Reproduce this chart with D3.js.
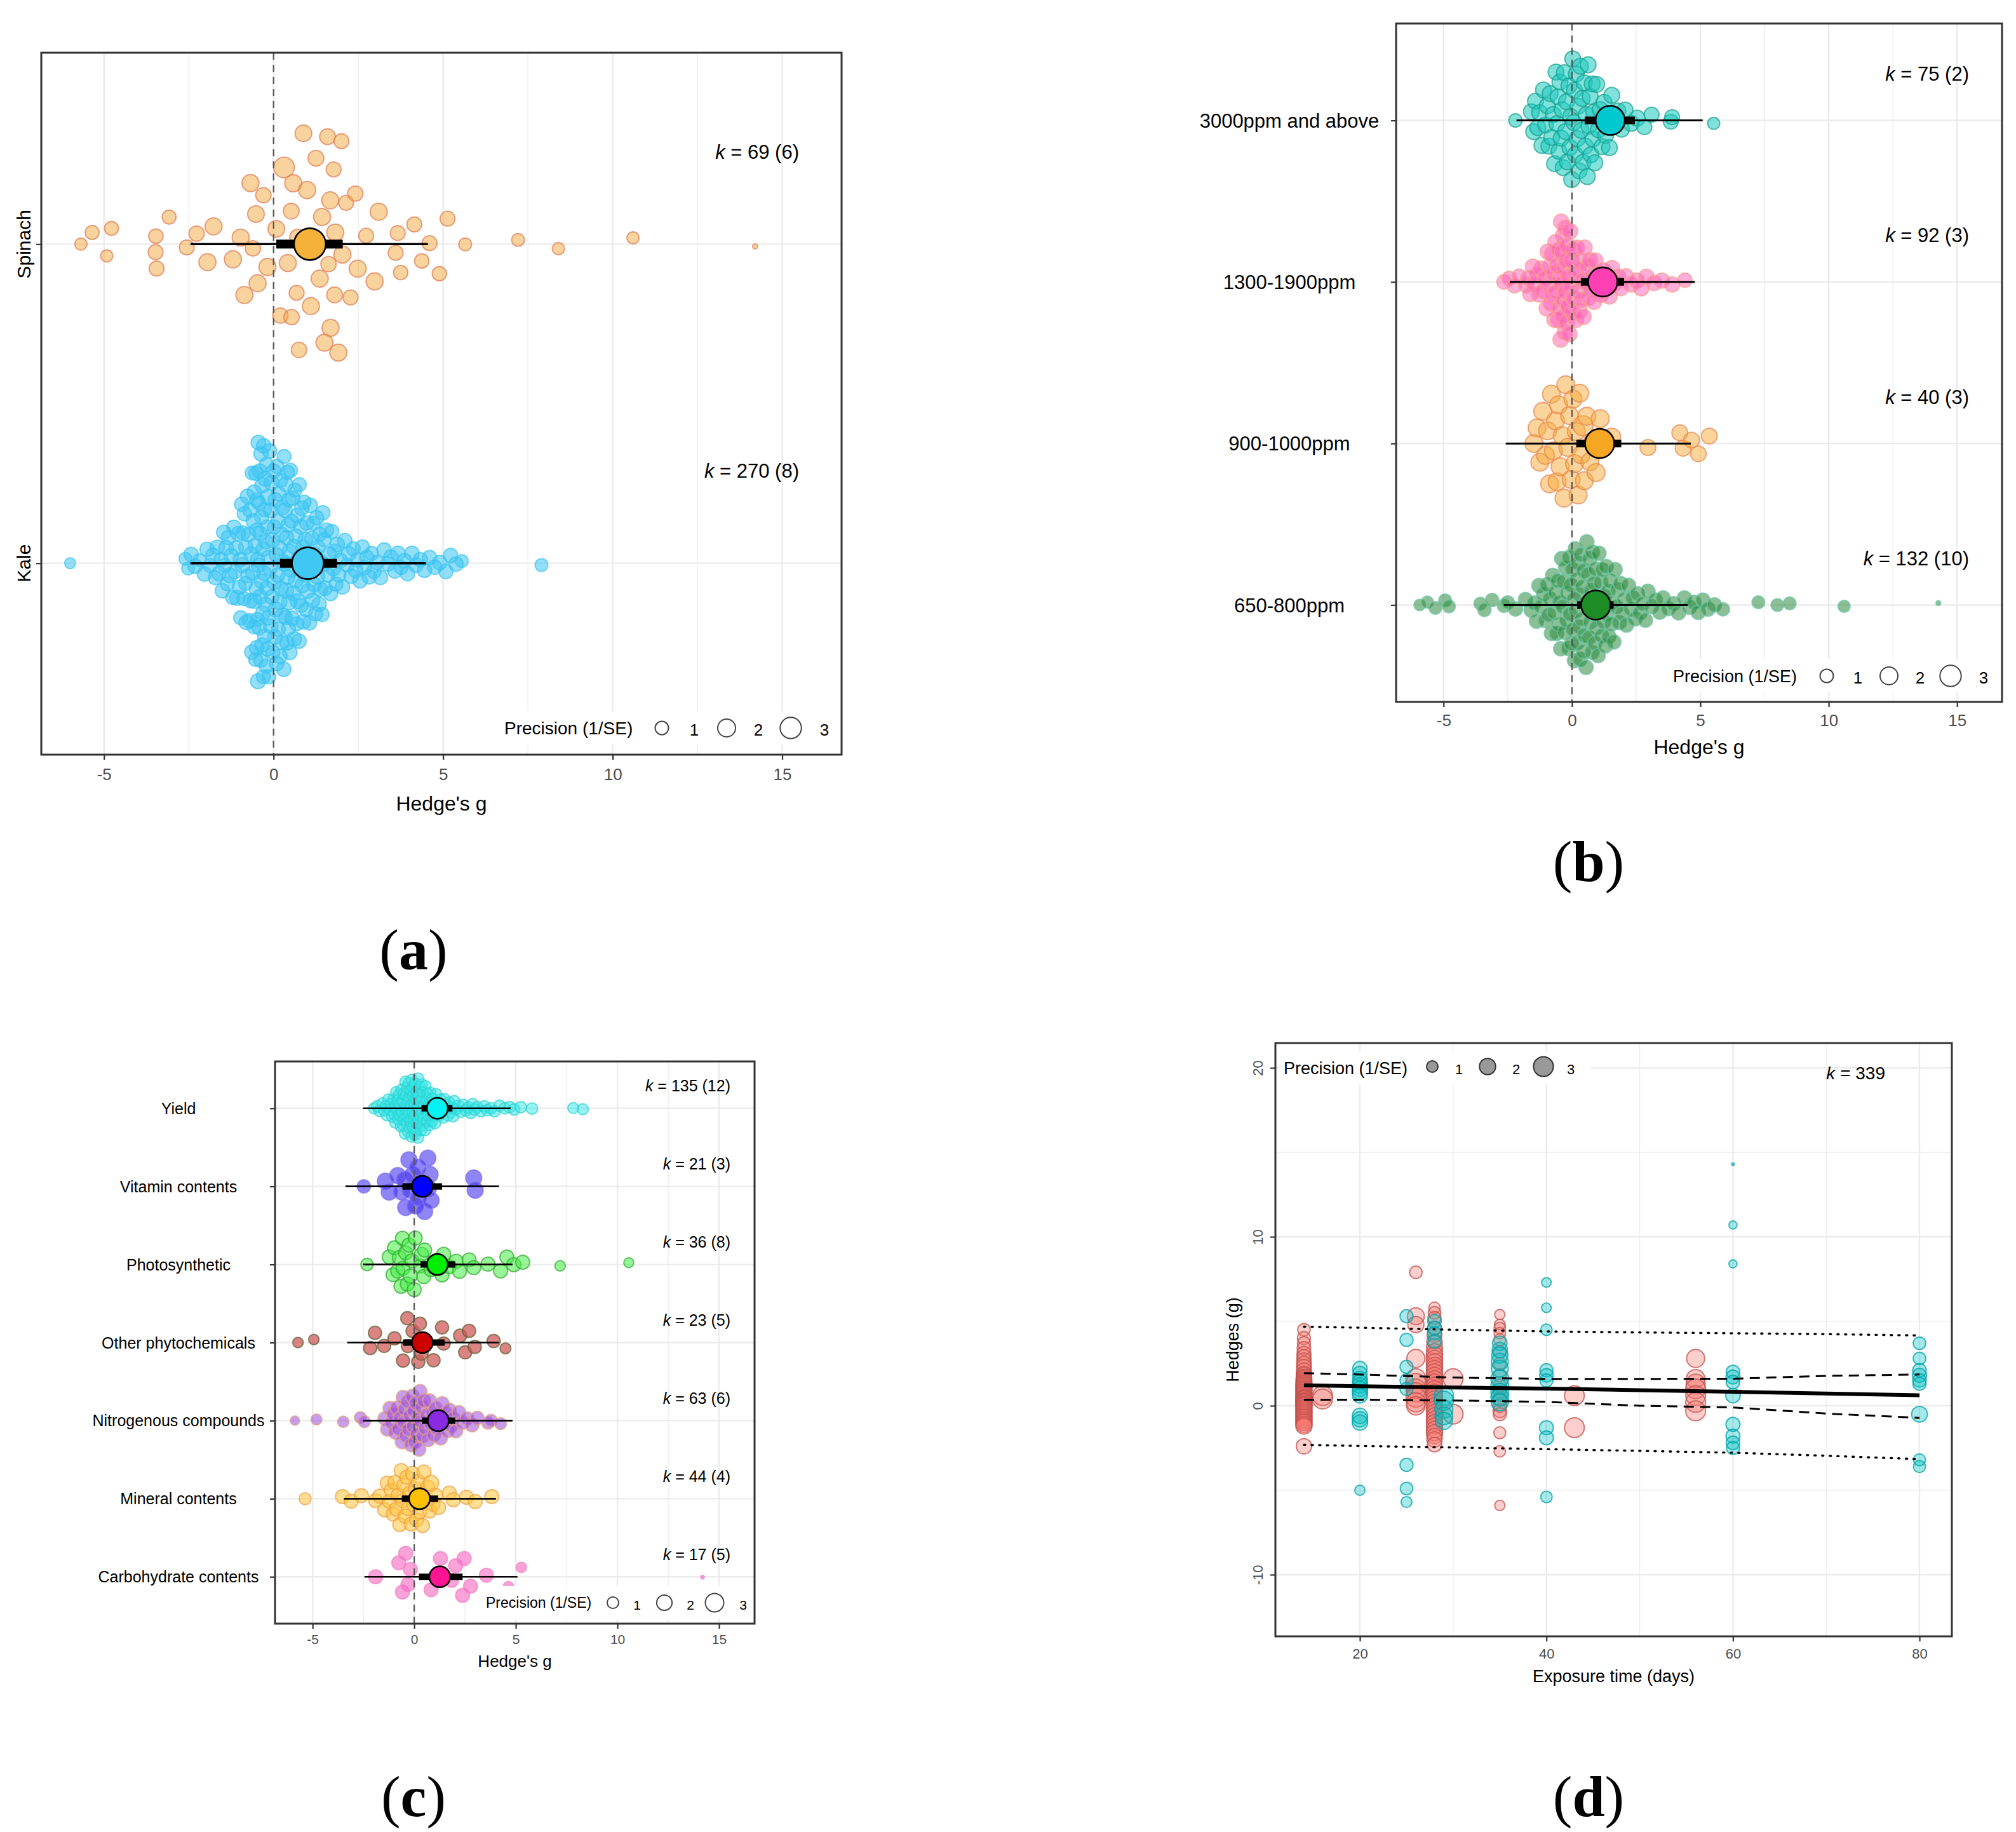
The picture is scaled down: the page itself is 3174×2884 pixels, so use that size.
<!DOCTYPE html>
<html>
<head>
<meta charset="utf-8">
<script src="https://cdn.jsdelivr.net/npm/d3@7"></script>
<style>
body { margin: 0; background: #fff; }
svg text { font-family: "Liberation Sans", Arial, sans-serif; }
</style>
</head>
<body>
<div id="view"></div>
<script>
var width = 3174, height = 2884;

// shared Hedge's g axis
var hedgeDomain = [-6.85, 16.75];
var hedgeTicks = [-5, 0, 5, 10, 15];
var hedgeMinor = [-2.5, 2.5, 7.5, 12.5];
var precBreaks = [1, 2, 3];

// ---- (a) crop ----
var cropNames = ["Spinach", "Kale"];
var cropK = ["69 (6)", "270 (8)"];
var cropEst = [1.07, 1.01];
var cropCiLo = [0.08, 0.19], cropCiHi = [2.04, 1.87];
var cropPiLo = [-2.45, -2.45], cropPiHi = [4.55, 4.49];
var cropPrec = [1.8, 1.2];   // typical precision, used when a point has no own value
var spinachPts = [[-5.68,0.8],[-5.35,1.1],[-4.92,0.8],[-4.78,1.1],[-3.48,1.3],[-3.47,1.2],[-3.45,1.3],[-3.08,1.1],
  [-2.56,1.3],[-2.27,1.4],-1.95,-1.77,-1.2,-0.97,-0.86,-0.68,[-0.61,1.4],[-0.52,1.7],[-0.47,1.8],[-0.3,1.4],
  -0.18,[0.08,1.7],[0.2,1.4],[0.31,2.8],0.42,[0.52,1.5],[0.53,1.4],0.58,[0.68,1.3],[0.71,1.5],[0.75,1.4],
  [0.88,1.7],0.9,0.99,1.1,[1.25,1.5],1.36,1.43,1.5,[1.59,1.5],[1.62,1.4],1.67,1.68,[1.77,1.3],[1.8,1.5],
  1.82,1.91,[2.0,1.3],2.03,[2.14,1.3],[2.27,1.3],[2.41,1.4],2.48,[2.73,1.3],2.98,3.1,[3.6,1.3],[3.66,1.3],
  [3.75,1.2],[4.15,1.3],[4.37,1.2],[4.6,1.3],[4.89,1.2],[5.13,1.3],[5.65,0.9],[7.21,0.9],[8.4,0.8],
  [10.6,0.8],[14.2,0.05]];
var kalePts = [[-6.0,0.6],[-2.6,0.9],[-2.52,0.9],-2.43,-2.31,[-2.18,0.9],-2.04,-1.96,[-1.87,1.1],-1.79,
  [-1.72,1.1],-1.66,-1.61,[-1.55,1.1],-1.51,-1.47,[-1.44,1.1],-1.4,[-1.36,1.1],-1.33,[-1.29,1.3],-1.25,
  [-1.21,1.1],-1.17,[-1.14,1.1],-1.1,[-1.07,1.3],-1.04,[-1.01,1.1],-0.98,[-0.97,1.1],-0.94,[-0.92,1.3],
  -0.9,[-0.88,1.1],-0.86,[-0.83,1.1],-0.82,[-0.8,1.3],-0.77,[-0.76,1.1],-0.74,-0.71,[-0.7,1.1],-0.68,
  [-0.66,1.3],-0.64,[-0.63,1.1],-0.61,-0.6,[-0.58,1.1],-0.57,[-0.56,1.3],-0.54,[-0.53,1.1],-0.52,-0.51,
  [-0.5,1.1],-0.5,-0.49,[-0.48,1.1],-0.47,[-0.46,1.3],-0.45,-0.44,[-0.43,1.1],-0.42,-0.41,[-0.4,1.3],
  -0.39,[-0.38,1.1],-0.37,-0.36,[-0.35,1.1],-0.34,[-0.33,1.3],-0.32,-0.31,[-0.3,1.1],-0.29,-0.28,
  [-0.27,1.1],-0.26,[-0.25,1.3],-0.24,-0.23,[-0.22,1.1],-0.21,-0.2,[-0.19,1.1],-0.18,[-0.17,1.3],-0.16,
  -0.15,[-0.14,1.1],-0.12,-0.11,[-0.09,1.1],-0.08,[-0.06,1.3],-0.05,-0.03,[-0.02,1.1],0,0.01,[0.02,1.1],
  0.04,0.05,[0.06,1.3],0.08,0.09,[0.1,1.1],0.12,0.13,[0.14,1.1],0.15,[0.17,1.3],0.18,0.19,[0.21,1.1],
  0.22,0.23,[0.25,1.1],0.26,[0.27,1.3],0.29,0.3,[0.31,1.1],0.32,0.34,[0.35,1.1],0.36,[0.37,1.3],0.38,
  0.4,[0.41,1.1],0.42,0.43,[0.44,1.1],0.45,[0.46,1.3],0.47,0.48,[0.5,1.1],0.52,[0.53,1.1],0.55,0.56,
  [0.58,1.3],0.6,0.61,[0.63,1.1],0.65,0.66,[0.68,1.1],0.7,[0.71,1.3],0.73,0.75,[0.76,1.1],0.78,0.8,
  [0.81,1.1],0.83,[0.85,1.3],0.87,0.88,[0.9,1.1],0.92,0.94,[0.96,1.1],0.98,1.01,[1.03,1.1],1.06,1.08,
  [1.1,1.3],1.13,1.15,[1.17,1.1],1.2,1.22,[1.24,1.1],1.27,[1.29,1.3],1.31,1.34,[1.36,1.1],1.38,1.41,
  [1.43,1.1],1.45,1.47,[1.49,1.1],1.52,1.56,[1.6,1.1],1.64,1.68,[1.72,1.1],1.76,1.8,[1.84,1.1],1.88,
  1.92,1.97,2.03,2.1,[2.16,1.1],2.22,2.29,[2.35,1.1],2.42,2.48,2.55,[2.62,1.1],2.68,2.75,2.82,[2.89,1.1],
  2.96,3.05,3.15,3.26,3.37,3.46,3.58,3.67,[3.76,1.1],3.86,3.95,4.08,4.2,4.33,4.45,4.6,4.75,4.9,5.08,
  5.22,5.38,[5.55,0.9],[7.9,0.9]];

// ---- (b) CO2 level ----
var co2Names = ["3000ppm and above", "1300-1900ppm", "900-1000ppm", "650-800ppm"];
var co2K = ["75 (2)", "92 (3)", "40 (3)", "132 (10)"];
var co2Est = [1.49, 1.2, 1.08, 0.93];
var co2CiLo = [0.5, 0.35, 0.17, 0.2], co2CiHi = [2.45, 2.03, 1.92, 1.62];
var co2PiLo = [-2.16, -2.42, -2.58, -2.65], co2PiHi = [5.09, 4.79, 4.63, 4.51];
var co2Prec = [1.5, 1.4, 2.0, 1.2];
var ppm3000Pts = [[-2.2,1.0],-1.58,-1.49,-1.42,-1.33,-1.26,-1.17,-1.11,-1.03,-0.96,-0.9,-0.85,-0.79,-0.73,
  -0.68,-0.62,-0.59,-0.54,-0.51,-0.47,-0.42,-0.38,-0.34,-0.3,-0.25,-0.21,-0.18,-0.12,-0.08,-0.05,-0.01,
  0.03,0.07,0.1,0.13,0.17,0.21,0.24,0.28,0.33,0.36,0.4,0.43,0.48,0.52,0.56,0.6,0.63,0.66,0.71,0.74,
  0.79,0.82,0.85,0.89,0.96,1.03,1.1,1.17,1.25,1.31,1.39,1.46,1.55,1.68,1.79,1.93,2.07,2.31,2.54,
  [2.82,1.3],[3.1,1.3],[3.85,1.3],[3.9,1.3],[5.52,0.8]];
var ppm1300Pts = [[-2.65,1.2],[-2.45,1.2],[-2.24,1.2],[-2.06,1.2],-1.78,-1.7,-1.62,-1.52,-1.46,-1.37,-1.28,
  -1.21,-1.12,-1.04,-0.98,-0.94,-0.9,-0.87,-0.82,-0.78,-0.75,-0.71,-0.68,-0.64,-0.6,-0.57,-0.54,-0.51,
  -0.48,-0.46,-0.44,-0.42,-0.4,-0.38,-0.36,-0.35,-0.32,-0.3,-0.28,-0.26,-0.24,-0.22,-0.2,-0.18,-0.15,
  -0.13,-0.1,-0.07,-0.04,-0.02,0.02,0.05,0.09,0.12,0.16,0.19,0.23,0.27,0.3,0.34,0.38,0.41,0.45,0.49,
  0.54,0.6,0.65,0.7,0.75,0.81,0.86,0.91,0.97,1.05,1.13,1.22,1.3,1.38,1.46,1.56,1.68,1.79,1.9,2.1,2.3,
  2.52,2.7,2.9,3.2,3.5,3.9,[4.4,1.2]];
var ppm900Pts = [-1.48,-1.36,-1.25,-1.14,-1.03,-0.95,-0.87,-0.8,-0.72,-0.64,-0.58,-0.52,-0.46,-0.38,-0.31,
  -0.24,-0.16,-0.09,-0.03,0.04,0.1,0.17,0.24,0.3,0.36,[0.43,2.6],0.48,0.58,0.7,0.82,0.94,1.1,1.32,1.55,
  [2.96,1.5],[4.2,1.5],[4.33,1.5],[4.66,1.5],[4.92,1.5],[5.35,1.5]];
var ppm650Pts = [[-5.93,0.7],[-5.63,0.8],[-5.32,0.9],[-4.94,0.9],[-4.79,0.9],[-3.57,0.9],[-3.41,1.0],
  [-3.11,1.0],[-2.65,1.0],[-2.5,1.0],-2.2,-1.81,-1.59,-1.47,-1.38,-1.29,-1.2,-1.11,-1.03,-0.97,-0.91,
  -0.86,-0.8,-0.75,-0.69,-0.64,-0.6,-0.55,-0.51,-0.48,-0.44,-0.4,-0.36,-0.33,-0.29,-0.25,-0.22,-0.18,
  -0.14,-0.11,-0.08,-0.05,-0.02,0.02,0.04,0.07,0.1,0.13,0.15,0.18,0.21,0.24,0.27,0.3,0.32,0.35,0.38,
  0.41,0.44,0.46,0.49,0.52,0.55,0.58,0.61,0.63,0.66,0.69,0.72,0.75,0.78,0.8,0.83,0.86,0.89,0.92,0.95,
  0.98,1.02,1.05,1.09,1.12,1.16,1.19,1.23,1.26,1.3,1.33,1.37,1.4,1.44,1.48,1.53,1.58,1.63,1.68,1.73,
  1.78,1.84,1.89,1.95,2.04,2.12,2.2,2.29,2.37,2.46,2.55,2.65,2.75,2.86,2.96,3.1,3.25,3.42,3.55,3.75,
  3.95,4.15,4.38,4.58,4.75,4.92,5.1,5.3,5.55,[5.88,1.0],[7.26,0.9],[8.0,0.9],[8.48,0.9],[10.6,0.8],
  [14.27,0.05]];

// ---- (c) outcome category ----
var catNames = ["Yield", "Vitamin contents", "Photosynthetic", "Other phytochemicals",
  "Nitrogenous compounds", "Mineral contents", "Carbohydrate contents"];
var catK = ["135 (12)", "21 (3)", "36 (8)", "23 (5)", "63 (6)", "44 (4)", "17 (5)"];
var catEst = [1.14, 0.4, 1.14, 0.4, 1.18, 0.26, 1.26];
var catCiLo = [0.36, -0.58, 0.31, -0.55, 0.39, -0.61, 0.23];
var catCiHi = [1.88, 1.37, 2.02, 1.5, 2.02, 1.18, 2.38];
var catPiLo = [-2.52, -3.38, -2.52, -3.3, -2.52, -3.46, -2.45];
var catPiHi = [4.75, 4.17, 4.84, 4.17, 4.84, 4.02, 5.08];
var catPrec = [1.0, 2.2, 1.6, 1.4, 1.5, 1.6, 1.6];
var yieldPts = [[-1.98,0.9],-1.82,-1.7,-1.56,-1.47,-1.4,-1.33,-1.27,-1.2,-1.14,-1.08,-1.02,-0.98,-0.95,
  -0.92,-0.88,-0.85,-0.82,-0.78,-0.75,-0.72,-0.69,-0.65,-0.62,-0.59,-0.56,-0.53,-0.51,-0.49,-0.47,-0.45,
  -0.43,-0.41,-0.39,-0.37,-0.35,-0.33,-0.31,-0.29,-0.27,-0.25,-0.23,-0.21,-0.19,-0.17,-0.15,-0.13,-0.11,
  -0.09,-0.07,-0.05,-0.04,-0.02,0,0.02,0.04,0.06,0.08,0.1,0.12,0.14,0.16,0.18,0.2,0.22,0.24,0.26,0.28,
  0.3,0.32,0.34,0.36,0.38,0.4,0.42,0.44,0.46,0.48,0.52,0.55,0.58,0.61,0.64,0.67,0.7,0.73,0.76,0.79,
  0.82,0.85,0.88,0.91,0.94,0.97,1.03,1.08,1.13,1.18,1.23,1.28,1.33,1.38,1.43,1.48,1.55,1.61,1.67,1.73,
  1.79,1.85,1.91,1.97,2.07,2.18,2.3,2.42,2.55,2.66,2.78,2.88,2.97,3.1,3.28,3.45,3.6,3.78,3.95,4.2,
  4.45,4.7,4.92,5.25,5.8,[7.83,0.9],[8.3,0.9]];
var vitaminPts = [[-2.48,1.4],-1.42,-1.23,-0.81,-0.62,-0.47,-0.42,-0.26,-0.19,-0.08,0.05,0.17,0.2,0.33,0.51,
  0.67,0.7,0.78,0.83,2.93,3.0];
var photoPts = [[-2.32,1.2],-1.23,-1.04,-0.97,-0.81,-0.73,-0.65,-0.58,-0.55,-0.42,-0.34,-0.26,-0.19,-0.11,
  0.0,0.05,0.31,0.36,0.47,0.51,0.83,1.0,1.37,1.45,1.73,2.07,2.23,2.7,2.93,3.63,4.25,4.56,4.9,5.34,
  [7.18,0.8],[10.56,0.7]];
var otherPts = [[-5.72,0.8],[-4.94,0.8],-2.17,-1.93,-1.48,-0.97,-0.55,-0.34,-0.31,-0.08,0.2,0.28,0.36,0.51,
  0.95,1.37,1.45,2.26,2.51,2.7,2.98,3.91,[4.49,0.9]];
var nitroPts = [[-5.87,0.6],[-4.81,0.9],[-3.49,1.0],[-2.65,1.1],[-2.45,1.1],-1.45,-1.32,-1.2,-1.1,-1.02,
  -0.93,-0.84,-0.76,-0.68,-0.6,-0.55,-0.51,-0.46,-0.4,-0.33,-0.27,-0.2,-0.14,-0.09,-0.05,-0.01,0.04,
  0.09,0.14,0.19,0.24,0.29,0.33,0.38,0.43,0.48,0.55,0.62,0.69,0.76,0.83,0.9,0.97,1.05,1.13,1.22,1.3,
  1.38,1.46,1.55,1.64,1.73,1.82,1.92,2.05,2.2,2.38,2.6,2.85,3.1,[3.63,1.2],[3.78,1.2],[4.25,1.1]];
var mineralPts = [[-5.37,1.1],-3.53,-3.1,-2.6,-1.9,-1.7,-1.45,-1.33,-1.22,-1.12,-1.03,-0.95,-0.87,-0.79,
  -0.71,-0.64,-0.57,-0.51,-0.45,-0.37,-0.3,-0.22,-0.15,-0.08,-0.02,0.05,0.12,0.2,0.27,0.34,0.41,0.48,
  0.56,0.66,0.76,[0.83,2.0],0.92,1.05,1.2,1.73,1.92,2.57,3.0,3.82];
var carbPts = [-1.9,-0.76,-0.58,-0.42,-0.31,-0.19,0.83,1.29,1.84,2.04,2.38,2.46,2.77,3.55,[4.64,0.8],
  [5.27,0.8],[14.19,0.03]];

// ---- (d) exposure time: [days, g, precision] ----
var timeRedPts = [[14,4.5,1.2],[14,4.0,1.3],[14,3.7,1.3],[14,3.4,1.4],[14,3.1,1.5],[14,2.9,1.5],[14,2.7,1.6],
  [14,2.5,1.6],[14,2.3,1.7],[14,2.1,1.7],[14,1.9,1.8],[14,1.8,1.8],[14,1.7,1.8],[14,1.6,1.9],[14,1.5,1.9],
  [14,1.4,1.9],[14,1.3,2],[14,1.2,2],[14,1.1,2],[14,1.0,2],[14,0.9,2],[14,0.8,2],[14,0.7,2],[14,0.6,2],
  [14,0.5,2],[14,0.45,2],[14,0.4,2],[14,0.3,2],[14,0.25,2],[14,0.2,2],[14,0.1,2],[14,0.05,2],[14,0,2],
  [14,-0.1,2],[14,-0.2,2],[14,-0.3,2],[14,-0.4,2],[14,-0.5,2],[14,-0.6,2],[14,-0.7,2],[14,-0.8,2],
  [14,-0.9,2],[14,-1.0,2],[14,-1.1,2],[14,-1.2,2],[14,-2.4,1.8],[16,0.6,3],[16,0.4,3],
  [26,7.9,1.2],[26,5.3,2.2],[26,4.8,2],[26,2.8,2.5],[26,1.6,3],[26,1.3,3.2],[26,1.0,3],[26,0.8,2.8],
  [26,0.5,3],[26,0.2,2.8],[26,0,2.6],[28,5.8,1],[28,5.5,1.2],[28,5.2,1.3],[28,4.6,1.5],[28,4.2,1.7],
  [28,3.8,1.8],[28,3.5,1.9],[28,3.2,2],[28,3.0,2],[28,2.8,2],[28,2.6,2],[28,2.4,2],[28,2.2,2],[28,2.0,2],
  [28,1.8,2],[28,1.6,2],[28,1.4,2],[28,1.2,2],[28,1.0,2],[28,0.8,2],[28,0.6,2],[28,0.4,2],[28,0.2,2],
  [28,0,2],[28,-0.2,2],[28,-0.4,2],[28,-0.6,2],[28,-0.8,2],[28,-1.0,2],[28,-1.2,2],[28,-1.4,2],
  [28,-1.6,2],[28,-1.8,1.8],[28,-2.0,1.8],[28,-2.3,1.6],[30,1.6,3],[30,-0.5,3],
  [35,5.4,0.8],[35,4.8,0.9],[35,4.6,1],[35,4.3,1],[35,3.9,1.1],[35,3.2,1.2],[35,2.5,1.2],[35,1.8,1.3],
  [35,1.2,1.3],[35,0.8,1.3],[35,0.4,1.4],[35,0,1.4],[35,-0.3,1.4],[35,-0.5,1.3],[35,-1.6,1.1],
  [35,-2.7,1],[35,-5.9,0.8],[43,0.6,3],[43,-1.3,3],
  [56,2.8,2.5],[56,1.6,2.6],[56,1.3,2.8],[56,1.0,3],[56,0.6,3],[56,0.2,3],[56,-0.3,3]];
var timeTealPts = [[20,2.2,1.6],[20,1.9,1.6],[20,1.6,1.7],[20,1.4,1.7],[20,1.2,1.8],[20,1.0,1.8],[20,0.8,1.8],
  [20,0.6,1.7],[20,-0.6,1.8],[20,-0.8,1.8],[20,-1.0,1.8],[20,-5.0,0.8],
  [25,5.3,1.3],[25,3.9,1.3],[25,2.3,1.3],[25,1.5,1.3],[25,1.0,1.3],[25,-3.5,1.3],[25,-4.9,1.2],[25,-5.7,0.9],
  [28,5.0,1.4],[28,4.6,1.4],[28,4.3,1.4],[28,3.8,1.3],
  [29,0.6,2.8],[29,0.3,2.8],[29,-0.2,2.5],[29,-0.6,2.4],[29,-0.9,2.2],
  [35,3.7,1.6],[35,3.3,1.8],[35,3.0,2],[35,2.6,2.2],[35,2.2,2.2],[35,1.6,2.4],[35,1.2,2.4],[35,0.8,2.4],
  [35,0.5,2.4],[35,0.2,2.2],
  [40,7.3,0.7],[40,5.8,0.7],[40,4.5,1],[40,2.1,1.3],[40,1.8,1.4],[40,1.5,1.3],[40,-1.3,1.5],[40,-1.9,1.5],
  [40,-5.4,1],
  [60,14.3,0.05],[60,10.7,0.5],[60,8.4,0.5],[60,2.0,1.4],[60,1.7,1.5],[60,1.4,1.4],[60,0.6,1.6],
  [60,-1.1,1.5],[60,-1.8,1.5],[60,-2.2,1.4],[60,-2.5,1.3],
  [80,3.7,1.2],[80,2.8,1.2],[80,2.1,1.4],[80,1.8,1.5],[80,1.5,1.4],[80,1.3,1.3],[80,-0.5,1.9],
  [80,-3.2,1.1],[80,-3.6,1.1]];
var timeKnots = [14, 20, 30, 40, 50, 60, 70, 80];
var timeFit = [1.21, 1.16, 1.08, 1.01, 0.92, 0.83, 0.72, 0.62];
var timeCiHi = [1.93, 1.85, 1.67, 1.59, 1.59, 1.6, 1.77, 1.85];
var timeCiLo = [0.36, 0.36, 0.31, 0.23, 0.0, -0.1, -0.46, -0.72];
var timePiHi = [4.68, 4.62, 4.5, 4.4, 4.34, 4.29, 4.24, 4.16];
var timePiLo = [-2.31, -2.38, -2.47, -2.57, -2.67, -2.78, -2.96, -3.16];
var timeK = "339";

var svg = d3.select("#view").append("svg")
	.attr("width", width)
	.attr("height", height);
svg.append("rect").attr("width", width).attr("height", height).style("fill", "#ffffff");

// van der Corput sequence, base 2
function vdc(n) {
	var v = 0, denom = 1;
	while (n > 0) { denom *= 2; v += (n % 2) / denom; n = Math.floor(n / 2); }
	return v;
}

// quasirandom offsets like ggbeeswarm (density scaled, vdc by rank)
function quasiOffsets(vals, w) {
	var n = vals.length;
	var sorted = vals.slice().sort(d3.ascending);
	var sd = d3.deviation(vals) || 1;
	var iqr = d3.quantileSorted(sorted, 0.75) - d3.quantileSorted(sorted, 0.25);
	var lo = Math.min(sd, iqr / 1.34);
	if (!(lo > 0)) lo = sd;
	var bw = 0.5 * 0.9 * lo * Math.pow(n, -0.2);
	function dens(v) {
		var s = 0;
		for (var j = 0; j < n; j++) { var u = (v - vals[j]) / bw; s += Math.exp(-0.5 * u * u); }
		return s;
	}
	var a = sorted[0] - 3 * bw, b = sorted[n - 1] + 3 * bw;
	var maxD = d3.max(d3.range(301), function(i) { return dens(a + i * (b - a) / 300); });
	var order = d3.range(n).sort(function(p, q) { return vals[p] - vals[q] || p - q; });
	var rank = [];
	order.forEach(function(idx, r) { rank[idx] = r + 1; });
	return vals.map(function(v, i) { return (vdc(rank[i]) - 0.5) * 2 * dens(v) / maxD * w; });
}

function kLabel(sel, txt) {
	sel.append("tspan").style("font-style", "italic").text("k");
	sel.append("tspan").text(" = " + txt);
}

function orchard(o) {
	var g = svg.append("g");
	var b = o.box;
	var x = d3.scaleLinear().domain(hedgeDomain).range([b[0], b[2]]);
	var y = d3.scalePoint().domain(o.names).range([b[1], b[3]]).padding(0.6);
	var step = y.step();
	var rad = function(p) { return o.r0 + o.r1 * Math.sqrt(p); };

	// grid
	g.selectAll(".gmin").data(hedgeMinor).enter().append("line")
		.attr("x1", x).attr("x2", x).attr("y1", b[1]).attr("y2", b[3])
		.style("stroke", "#ebebeb").style("stroke-width", 1.2);
	g.selectAll(".gmaj").data(hedgeTicks).enter().append("line")
		.attr("x1", x).attr("x2", x).attr("y1", b[1]).attr("y2", b[3])
		.style("stroke", "#ebebeb").style("stroke-width", 2.4);
	g.selectAll(".gcat").data(o.names).enter().append("line")
		.attr("x1", b[0]).attr("x2", b[2]).attr("y1", y).attr("y2", y)
		.style("stroke", "#ebebeb").style("stroke-width", 2.4);

	// effect sizes
	o.names.forEach(function(name, i) {
		var pts = o.points[i].map(function(d) { return Array.isArray(d) ? d : [d, o.prec[i]]; });
		var off = quasiOffsets(pts.map(function(d) { return d[0]; }), 0.4);
		g.append("g").selectAll("circle")
			.data(pts).enter()
			.append("circle")
			.attr("cx", function(d) { return x(d[0]); })
			.attr("cy", function(d, j) { return y(name) + off[j] * step; })
			.attr("r", function(d) { return rad(d[1]); })
			.style("fill", o.fill[i]).style("fill-opacity", o.fillOp[i])
			.style("stroke", o.stroke[i]).style("stroke-opacity", 0.7)
			.style("stroke-width", 2);
	});

	// zero line
	g.append("line").attr("x1", x(0)).attr("x2", x(0)).attr("y1", b[1]).attr("y2", b[3])
		.style("stroke", "#555").style("stroke-width", 2.2).style("stroke-dasharray", "11,8");

	// prediction + confidence intervals and estimate
	g.selectAll(".pi").data(o.names).enter().append("line")
		.attr("x1", function(d, i) { return x(o.piLo[i]); })
		.attr("x2", function(d, i) { return x(o.piHi[i]); })
		.attr("y1", y).attr("y2", y)
		.style("stroke", "#000").style("stroke-width", o.piW);
	g.selectAll(".ci").data(o.names).enter().append("line")
		.attr("x1", function(d, i) { return x(o.ciLo[i]); })
		.attr("x2", function(d, i) { return x(o.ciHi[i]); })
		.attr("y1", y).attr("y2", y)
		.style("stroke", "#000").style("stroke-width", o.ciW);
	g.selectAll(".est").data(o.names).enter().append("circle")
		.attr("cx", function(d, i) { return x(o.est[i]); })
		.attr("cy", y)
		.attr("r", o.estR)
		.style("fill", function(d, i) { return o.estFill[i]; })
		.style("stroke", "#000").style("stroke-width", 2.6);

	// k labels
	g.selectAll(".k").data(o.names).enter().append("text")
		.attr("x", o.kRight)
		.attr("y", function(d) { return y(d) - 0.29 * step; })
		.attr("dy", "0.36em")
		.attr("text-anchor", "end")
		.style("font-size", o.kSize + "px")
		.each(function(d, i) { kLabel(d3.select(this), o.k[i]); });

	// legend
	var L = o.legend;
	g.append("rect").attr("x", L.tx - 12).attr("y", L.y - 26)
		.attr("width", L.nx[2] - L.tx + 28).attr("height", 52).style("fill", "#fff");
	g.append("text").attr("x", L.tx).attr("y", L.y).attr("dy", "0.36em")
		.style("font-size", L.size + "px").text("Precision (1/SE)");
	g.selectAll(".lc").data(precBreaks).enter().append("circle")
		.attr("cx", function(d, i) { return L.cx[i]; }).attr("cy", L.y)
		.attr("r", rad)
		.style("fill", "none").style("stroke", "#444").style("stroke-width", 2);
	g.selectAll(".ln").data(precBreaks).enter().append("text")
		.attr("x", function(d, i) { return L.nx[i]; }).attr("y", L.y + 3).attr("dy", "0.36em")
		.attr("text-anchor", "middle").style("font-size", L.nSize + "px")
		.text(function(d) { return d; });

	// frame and axes
	g.append("rect").attr("x", b[0]).attr("y", b[1]).attr("width", b[2] - b[0]).attr("height", b[3] - b[1])
		.style("fill", "none").style("stroke", "#333").style("stroke-width", 3);
	var xa = g.append("g").attr("transform", "translate(0," + b[3] + ")")
		.call(d3.axisBottom(x).tickValues(hedgeTicks).tickSize(8).tickPadding(o.tickPad)
			.tickFormat(function(d) { return String(d); }));
	var ya = g.append("g").attr("transform", "translate(" + b[0] + ",0)")
		.call(d3.axisLeft(y).tickSize(8).tickFormat(""));
	[xa, ya].forEach(function(a) {
		a.select(".domain").remove();
		a.selectAll("line").style("stroke", "#333").style("stroke-width", 2.2);
		a.selectAll("text").style("fill", "#4d4d4d").style("font-size", o.tickSize + "px")
			.style("font-family", "Liberation Sans, Arial, sans-serif");
	});

	// category labels
	g.selectAll(".cl").data(o.names).enter().append("text")
		.attr("transform", function(d) {
			return "translate(" + o.catX + "," + y(d) + ")" + (o.catRotate ? " rotate(-90)" : "");
		})
		.attr("dy", "0.36em").attr("text-anchor", "middle")
		.style("font-size", o.catSize + "px").style("fill", "#000")
		.text(function(d) { return d; });

	g.append("text").attr("x", (b[0] + b[2]) / 2).attr("y", o.titleY)
		.attr("text-anchor", "middle").style("font-size", o.titleSize + "px")
		.text("Hedge's g");
}

orchard({
	box: [65, 83, 1325, 1188], names: cropNames, points: [spinachPts, kalePts], prec: cropPrec,
	est: cropEst, ciLo: cropCiLo, ciHi: cropCiHi, piLo: cropPiLo, piHi: cropPiHi, k: cropK,
	fill: ["#f3a73b", "#3cc4f2"], fillOp: [0.5, 0.55], stroke: ["#e07b54", "#3cc4f2"],
	estFill: ["#f4b23a", "#40c8f4"], r0: 2, r1: 8.5, estR: 25, ciW: 14, piW: 3.5,
	kRight: 1258, kSize: 31, catX: 37, catRotate: true, catSize: 30,
	tickPad: 14, tickSize: 26, titleY: 1276, titleSize: 32,
	legend: { tx: 794, y: 1146, size: 28, nSize: 26, cx: [1042, 1144, 1245], nx: [1093, 1194, 1298] }
});

orchard({
	box: [2198, 37, 3152, 1105], names: co2Names, points: [ppm3000Pts, ppm1300Pts, ppm900Pts, ppm650Pts],
	prec: co2Prec, est: co2Est, ciLo: co2CiLo, ciHi: co2CiHi, piLo: co2PiLo, piHi: co2PiHi, k: co2K,
	fill: ["#1cc9be", "#ff5bb5", "#f7a93a", "#2e8b3e"], fillOp: [0.55, 0.5, 0.5, 0.55],
	stroke: ["#16a08f", "#f7a08c", "#e8864e", "#6cc4a4"],
	estFill: ["#00c8cf", "#ff40b4", "#f5a623", "#1e8c26"], r0: 2, r1: 8.5, estR: 23, ciW: 12, piW: 3,
	kRight: 3100, kSize: 31, catX: 2030, catRotate: false, catSize: 31,
	tickPad: 12, tickSize: 26, titleY: 1187, titleSize: 32,
	legend: { tx: 2634, y: 1064, size: 27, nSize: 26, cx: [2876, 2974, 3071], nx: [2925, 3023, 3123] }
});

orchard({
	box: [433, 1671, 1188, 2556], names: catNames,
	points: [yieldPts, vitaminPts, photoPts, otherPts, nitroPts, mineralPts, carbPts],
	prec: catPrec, est: catEst, ciLo: catCiLo, ciHi: catCiHi, piLo: catPiLo, piHi: catPiHi, k: catK,
	fill: ["#33e6e6", "#4433ee", "#44ee44", "#d05a5a", "#9a4de0", "#ffc53d", "#f566c0"],
	fillOp: [0.5, 0.6, 0.55, 0.75, 0.55, 0.55, 0.6],
	stroke: ["#2ed3d3", "#7a6cf0", "#2eaa2e", "#5c5c30", "#e0a080", "#f0a040", "#f580c8"],
	estFill: ["#00f2f2", "#0000ff", "#00ee00", "#cc0000", "#8a2be2", "#ffc000", "#ff1493"],
	r0: 1.5, r1: 7.5, estR: 16.5, ciW: 10, piW: 2.6,
	kRight: 1150, kSize: 25, catX: 281, catRotate: false, catSize: 25,
	tickPad: 9, tickSize: 21, titleY: 2624, titleSize: 26,
	legend: { tx: 765, y: 2523, size: 23, nSize: 21, cx: [965, 1046, 1125], nx: [1003, 1087, 1170] }
});

// ---- (d) bubble plot over exposure time ----
(function() {
	var b = [2008, 1642, 3073, 2576];
	var g = svg.append("g");
	var x = d3.scaleLinear().domain([10.94, 83.47]).range([b[0], b[2]]);
	var y = d3.scaleLinear().domain([-13.65, 21.47]).range([b[3], b[1]]);
	var rad = function(p) { return 9 * Math.sqrt(p); };

	g.selectAll(".xm").data([30, 50, 70]).enter().append("line")
		.attr("x1", x).attr("x2", x).attr("y1", b[1]).attr("y2", b[3])
		.style("stroke", "#ebebeb").style("stroke-width", 1.2);
	g.selectAll(".ym").data([-5, 5, 15]).enter().append("line")
		.attr("x1", b[0]).attr("x2", b[2]).attr("y1", y).attr("y2", y)
		.style("stroke", "#ebebeb").style("stroke-width", 1.2);
	g.selectAll(".xM").data([20, 40, 60, 80]).enter().append("line")
		.attr("x1", x).attr("x2", x).attr("y1", b[1]).attr("y2", b[3])
		.style("stroke", "#ebebeb").style("stroke-width", 2.4);
	g.selectAll(".yM").data([-10, 0, 10, 20]).enter().append("line")
		.attr("x1", b[0]).attr("x2", b[2]).attr("y1", y).attr("y2", y)
		.style("stroke", "#ebebeb").style("stroke-width", 2.4);

	[[timeRedPts, "#f8766d", "#c0504d"], [timeTealPts, "#00bfc4", "#00a2a8"]].forEach(function(s) {
		g.append("g").selectAll("circle")
			.data(s[0]).enter()
			.append("circle")
			.attr("cx", function(d) { return x(d[0]); })
			.attr("cy", function(d) { return y(d[1]); })
			.attr("r", function(d) { return rad(d[2]); })
			.style("fill", s[1]).style("fill-opacity", 0.35)
			.style("stroke", s[2]).style("stroke-opacity", 0.75).style("stroke-width", 2);
	});

	function band(vals, w, dash) {
		var line = d3.line()
			.x(function(d, i) { return x(timeKnots[i]); })
			.y(function(d) { return y(d); });
		g.append("path").attr("d", line(vals))
			.style("fill", "none").style("stroke", "#000").style("stroke-width", w)
			.style("stroke-dasharray", dash).style("stroke-linecap", dash === "2,10" ? "round" : "butt");
	}
	band(timePiHi, 3.4, "2,10");
	band(timePiLo, 3.4, "2,10");
	band(timeCiHi, 3, "16,10");
	band(timeCiLo, 3, "16,10");
	band(timeFit, 6, null);

	// legend
	g.append("rect").attr("x", 2014).attr("y", 1656).attr("width", 490).attr("height", 50).style("fill", "#fff");
	g.append("text").attr("x", 2021).attr("y", 1681).attr("dy", "0.36em")
		.style("font-size", "27px").text("Precision (1/SE)");
	var lcx = [2255, 2342, 2430], lnx = [2297, 2387, 2473];
	g.selectAll(".lc").data(precBreaks).enter().append("circle")
		.attr("cx", function(d, i) { return lcx[i]; }).attr("cy", 1679)
		.attr("r", rad)
		.style("fill", "#808080").style("fill-opacity", 0.8)
		.style("stroke", "#333").style("stroke-width", 2);
	g.selectAll(".ln").data(precBreaks).enter().append("text")
		.attr("x", function(d, i) { return lnx[i]; }).attr("y", 1683).attr("dy", "0.36em")
		.attr("text-anchor", "middle").style("font-size", "22px")
		.text(function(d) { return d; });

	g.append("text").attr("x", 2968).attr("y", 1689).attr("dy", "0.36em")
		.attr("text-anchor", "end").style("font-size", "28px")
		.each(function() { kLabel(d3.select(this), timeK); });

	g.append("rect").attr("x", b[0]).attr("y", b[1]).attr("width", b[2] - b[0]).attr("height", b[3] - b[1])
		.style("fill", "none").style("stroke", "#333").style("stroke-width", 3);

	var xa = g.append("g").attr("transform", "translate(0," + b[3] + ")")
		.call(d3.axisBottom(x).tickValues([20, 40, 60, 80]).tickSize(8).tickPadding(11));
	var ya = g.append("g").attr("transform", "translate(" + b[0] + ",0)")
		.call(d3.axisLeft(y).tickValues([-10, 0, 10, 20]).tickSize(8)
			.tickFormat(function(d) { return String(d); }));
	[xa, ya].forEach(function(a) {
		a.select(".domain").remove();
		a.selectAll("line").style("stroke", "#333").style("stroke-width", 2.2);
		a.selectAll("text").style("fill", "#4d4d4d").style("font-size", "22px")
			.style("font-family", "Liberation Sans, Arial, sans-serif");
	});
	ya.selectAll("text").attr("x", 0).attr("y", -20).attr("dy", 0)
		.attr("transform", "rotate(-90)").style("text-anchor", "middle");

	g.append("text").attr("x", (b[0] + b[2]) / 2).attr("y", 2648)
		.attr("text-anchor", "middle").style("font-size", "27px").text("Exposure time (days)");
	g.append("text").attr("transform", "translate(1940," + ((b[1] + b[3]) / 2) + ") rotate(-90)")
		.attr("dy", "0.36em").attr("text-anchor", "middle").style("font-size", "27px").text("Hedges (g)");
})();

// panel letters
[["a", 651, 1496], ["b", 2501, 1357], ["c", 651, 2829], ["d", 2501, 2829]].forEach(function(p) {
	var t = svg.append("text").attr("x", p[1]).attr("y", p[2]).attr("dy", "0.33em")
		.attr("text-anchor", "middle")
		.style("font-family", "Liberation Serif, serif").style("font-size", "92px");
	t.append("tspan").text("(");
	t.append("tspan").style("font-weight", "bold").text(p[0]);
	t.append("tspan").text(")");
});
</script>
</body>
</html>
